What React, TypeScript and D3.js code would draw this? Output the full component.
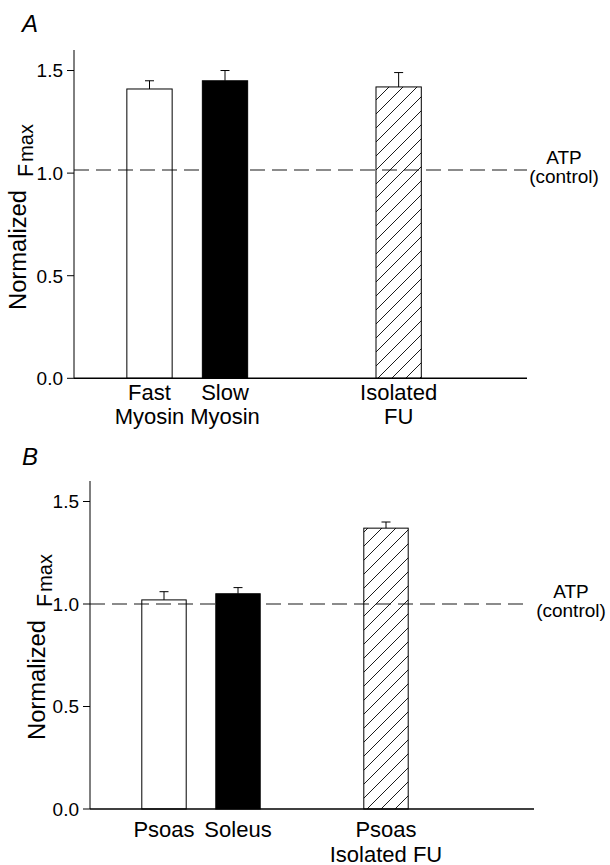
import React from "react";
import * as d3 from "d3";

// ---------- Data ----------
const yTicks = [0, 0.5, 1.0, 1.5];
const fills = ["white", "black", "hatch"];

const panelALabels = [["Fast", "Myosin"], ["Slow", "Myosin"], ["Isolated", "FU"]];
const panelAPositions = [1, 2, 4.3];
const panelAValues = [1.41, 1.45, 1.42];
const panelAErrors = [0.04, 0.05, 0.07];
const panelAControl = 1.015;

const panelBLabels = [["Psoas"], ["Soleus"], ["Psoas", "Isolated FU"]];
const panelBPositions = [1, 2, 4];
const panelBValues = [1.02, 1.05, 1.37];
const panelBErrors = [0.04, 0.03, 0.03];
const panelBControl = 1.0;

const FONT = "'Liberation Sans', Arial, Helvetica, sans-serif";

type PanelProps = {
  letter: string;
  letterY: number;
  labels: string[][];
  positions: number[];
  values: number[];
  errors: number[];
  control: number;
  x0: number;
  x1: number;
  yTop: number;
  yBottom: number;
  dashEnd: number;
  labelBase: number;
  labelLine: number;
  yLabelX: number;
  yLabelStart: number;
  atpX: number;
  atpY: number;
};

function Panel(p: PanelProps) {
  const x = d3.scaleLinear().domain([0, 6]).range([p.x0, p.x1]);
  const y = d3.scaleLinear().domain([0, 1.6]).range([p.yBottom, p.yTop]);
  const barW = x(0.6) - x(0);
  const fmt = d3.format(".1f");
  const cap = 9;
  return (
    <g>
      <text x={22} y={p.letterY} fontSize={24} fontStyle="italic" fontFamily={FONT}>
        {p.letter}
      </text>
      {/* control dashed line */}
      <line
        x1={x(0)}
        x2={p.dashEnd}
        y1={y(p.control)}
        y2={y(p.control)}
        stroke="#666"
        strokeWidth={1.5}
        strokeDasharray="15 7"
      />
      {/* bars */}
      {p.values.map((v, i) => {
        const cx = x(p.positions[i]);
        const f = fills[i];
        return (
          <g key={i}>
            <line x1={cx} x2={cx} y1={y(v)} y2={y(v + p.errors[i])} stroke="black" strokeWidth={1} />
            <line
              x1={cx - cap / 2}
              x2={cx + cap / 2}
              y1={y(v + p.errors[i])}
              y2={y(v + p.errors[i])}
              stroke="black"
              strokeWidth={1}
            />
            <rect
              x={cx - barW / 2}
              y={y(v)}
              width={barW}
              height={y(0) - y(v)}
              fill={f === "hatch" ? "url(#hatch)" : f === "white" ? "none" : "black"}
              stroke="black"
              strokeWidth={1}
            />
          </g>
        );
      })}
      {/* axes */}
      <line x1={x(0)} x2={x(0)} y1={p.yTop} y2={p.yBottom} stroke="black" strokeWidth={1} />
      <line x1={x(0)} x2={p.x1} y1={p.yBottom} y2={p.yBottom} stroke="black" strokeWidth={1.6} />
      {yTicks.map((t) => (
        <g key={t}>
          <line x1={x(0) - 7} x2={x(0)} y1={y(t)} y2={y(t)} stroke="black" strokeWidth={1} />
          <text
            x={x(0) - 11}
            y={y(t)}
            dy="0.36em"
            textAnchor="end"
            fontSize={19}
            fontFamily={FONT}
          >
            {fmt(t)}
          </text>
        </g>
      ))}
      {/* category labels */}
      {p.labels.map((lines, i) =>
        lines.map((s, j) => (
          <text
            key={i + "-" + j}
            x={x(p.positions[i])}
            y={p.labelBase + j * p.labelLine}
            textAnchor="middle"
            fontSize={22}
            fontFamily={FONT}
          >
            {s}
          </text>
        ))
      )}
      {/* y label */}
      <g transform={`translate(${p.yLabelX},${p.yLabelStart}) rotate(-90)`} fontFamily={FONT}>
        <text x={0} y={0} fontSize={23} textLength={120} lengthAdjust="spacingAndGlyphs">
          Normalized
        </text>
        <text x={133} y={7} fontSize={22} textLength={13} lengthAdjust="spacingAndGlyphs">
          F
        </text>
        <text x={148} y={7} fontSize={20} textLength={38} lengthAdjust="spacingAndGlyphs">
          max
        </text>
      </g>
      {/* ATP label */}
      <text x={p.atpX} y={p.atpY} textAnchor="middle" fontSize={19} fontFamily={FONT}>
        ATP
      </text>
      <text x={p.atpX} y={p.atpY + 19} textAnchor="middle" fontSize={19} fontFamily={FONT}>
        (control)
      </text>
    </g>
  );
}

export default function App() {
  return (
    <svg
      width={610}
      height={865}
      style={{ position: "absolute", left: 0, top: 0, background: "white" }}
    >
      <defs>
        <pattern id="hatch" patternUnits="userSpaceOnUse" width={14} height={14}>
          <path d="M-2,2 L2,-2 M0,14 L14,0 M12,16 L16,12" stroke="black" strokeWidth={0.9} />
        </pattern>
      </defs>
      <rect width={610} height={865} fill="white" />
      <Panel
        letter="A"
        letterY={32}
        labels={panelALabels}
        positions={panelAPositions}
        values={panelAValues}
        errors={panelAErrors}
        control={panelAControl}
        x0={74}
        x1={527}
        yTop={50}
        yBottom={378.3}
        dashEnd={527}
        labelBase={400}
        labelLine={24}
        yLabelX={26}
        yLabelStart={310}
        atpX={564}
        atpY={164}
      />
      <Panel
        letter="B"
        letterY={465}
        labels={panelBLabels}
        positions={panelBPositions}
        values={panelBValues}
        errors={panelBErrors}
        control={panelBControl}
        x0={90}
        x1={534}
        yTop={481}
        yBottom={809}
        dashEnd={525}
        labelBase={837}
        labelLine={24.5}
        yLabelX={45}
        yLabelStart={740}
        atpX={571}
        atpY={598}
      />
    </svg>
  );
}
